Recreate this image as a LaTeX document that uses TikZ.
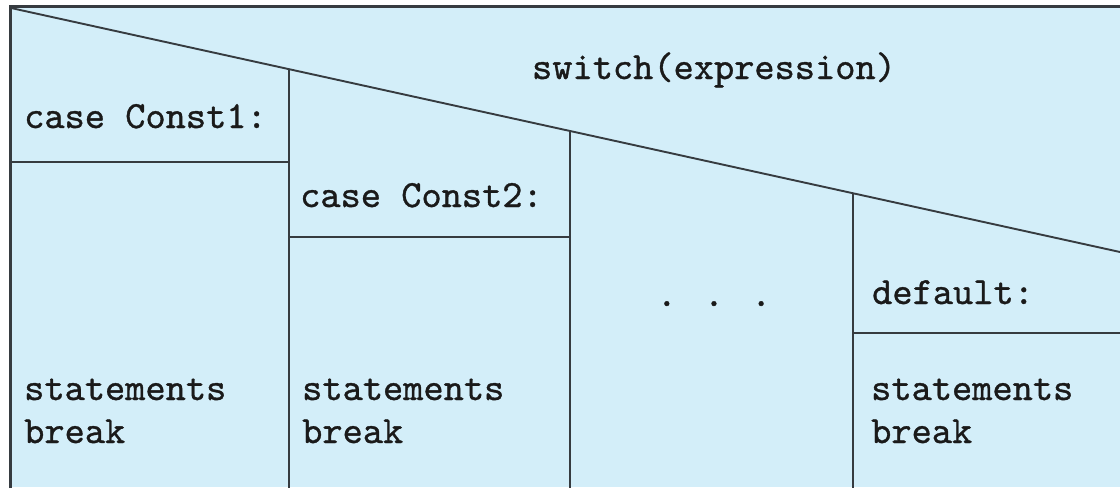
\documentclass[tikz,border=0pt]{standalone}
\usepackage{fontspec}
\newfontfamily\nsmono{lmmono10-regular.otf}[FakeBold=0.9]
\definecolor{nsfill}{HTML}{D3EEF9}
\definecolor{nsline}{HTML}{363B40}
\definecolor{nstext}{HTML}{1A1A1A}
\begin{document}
\begin{tikzpicture}[x=1pt,y=-1pt,
  frame/.style={draw=nsline,line width=3pt},
  rule/.style={draw=nsline,line width=1.9pt},
  code/.style={font=\nsmono\fontsize{38.5}{43}\selectfont,anchor=base west,
               inner sep=0pt,text=nstext}]
\useasboundingbox (0,0) rectangle (1120,490);
\fill[white] (0,0) rectangle (1120,490);
% block background
\fill[nsfill] (10,6) rectangle (1120,487);

% switch head: diagonal and column borders
\coordinate (d0) at (11,8);
\coordinate (d1) at (1120,252);
\coordinate (c1t) at (289,69);
\coordinate (c1b) at (289,488);
\coordinate (c2t) at (570,131);
\coordinate (c2b) at (570,488);
\coordinate (c3t) at (853,193);
\coordinate (c3b) at (853,488);
\draw[rule] (d0) -- (d1);
\draw[rule] (c1t) -- (c1b);
\draw[rule] (c2t) -- (c2b);
\draw[rule] (c3t) -- (c3b);

% case label separators
\coordinate (h1a) at (10,162);
\coordinate (h1b) at (289,162);
\coordinate (h2a) at (289,237);
\coordinate (h2b) at (570,237);
\coordinate (h4a) at (853,333);
\coordinate (h4b) at (1120,333);
\draw[rule] (h1a) -- (h1b);
\draw[rule] (h2a) -- (h2b);
\draw[rule] (h4a) -- (h4b);

% outer frame (top and left)
\coordinate (fl) at (10,488);
\coordinate (ftl) at (10,6);
\coordinate (ftr) at (1120,6);
\draw[frame,line join=miter] (fl) -- (ftl) -- (ftr);

% texts
\node[code,anchor=base] (sw) at (714,79) {switch(expression)};
\node[code] (case1) at (24,128) {case Const1:};
\node[code] (case2) at (300,207) {case Const2:};
\node[code,anchor=base] (more) at (714,306) {. . .};
\node[code] (dflt) at (872,304) {default:};
\node[code] (st1) at (24,400) {statements};
\node[code] (br1) at (24,443) {break};
\node[code] (st2) at (302,400) {statements};
\node[code] (br2) at (302,443) {break};
\node[code] (st4) at (871,400) {statements};
\node[code] (br4) at (871,443) {break};
\end{tikzpicture}
\end{document}
